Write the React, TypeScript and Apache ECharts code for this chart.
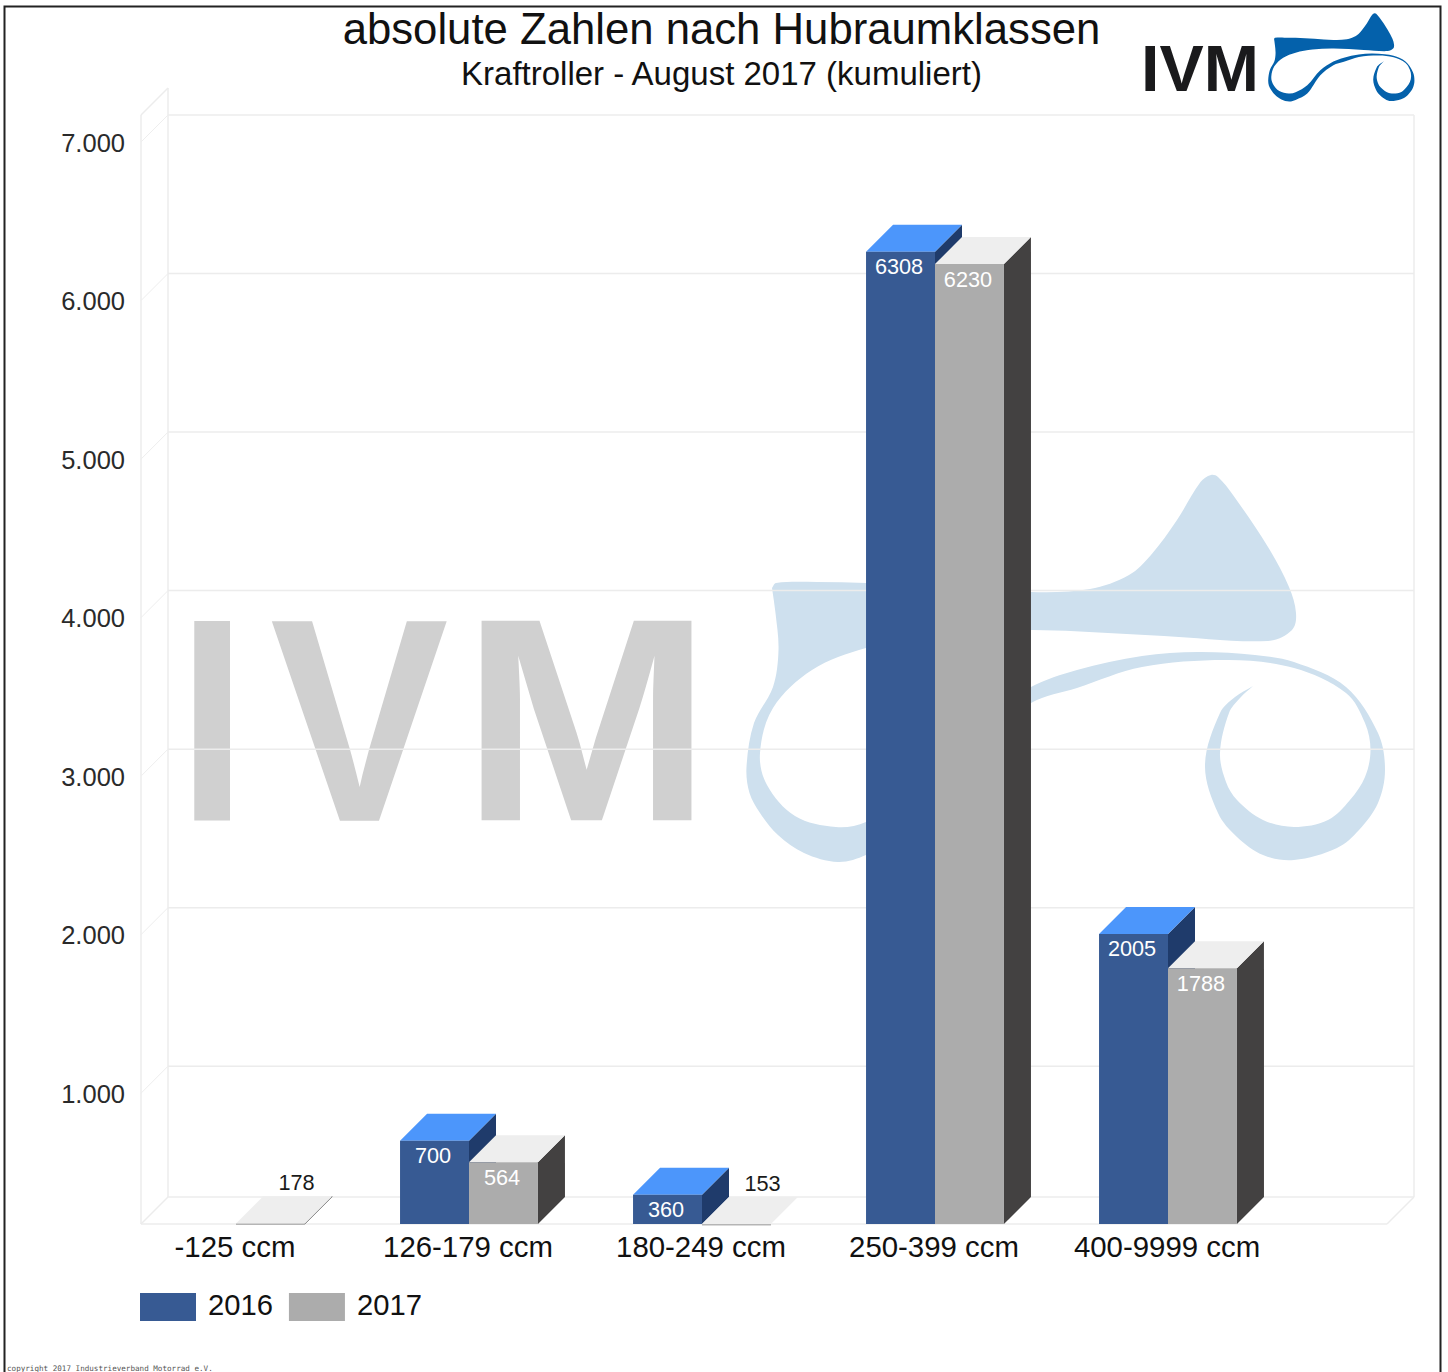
import React, { useEffect, useRef } from "react";
import * as echarts from "echarts";

const categories = ["-125 ccm", "126-179 ccm", "180-249 ccm", "250-399 ccm", "400-9999 ccm"];
const values2016: (number | null)[] = [null, 700, 360, 6308, 2005];
const values2017: number[] = [178, 564, 153, 6230, 1788];
const yTicks = [1000, 2000, 3000, 4000, 5000, 6000, 7000];
const Y_MIN = 175;
const Y_MAX = 7000;

const FONT = '"Liberation Sans", Arial, sans-serif';
const DEPTH = 27;
const GRID = { left: 119.5, width: 1165, top: 142, height: 1082 };
const WALL = { frontLeft: 141, frontRight: 1387, frontFloor: 1224 };
const WALL_COLOR = "#ececec";

// Outline of the IVM scooter logo (traced); doubled points make sharp corners.
const logoOutline: number[][] = [
  [1211, 475], [1218, 477], [1233, 495], [1268, 547], [1289, 587], [1296, 613], [1292, 630], [1268, 641],
  [1164, 636], [1033, 630], [940, 634], [866, 648], [812, 670], [773, 708],
  [760, 753], [767, 785], [795, 816], [836, 827], [866, 822], [917, 791], [974, 725], [1031, 687],
  [1077, 670], [1142, 656], [1198, 652], [1255, 655], [1294, 662], [1346, 687],
  [1378, 733], [1385, 770], [1378, 803], [1359, 830], [1337, 848], [1294, 860], [1263, 855],
  [1237, 837], [1218, 813], [1205, 765], [1220, 713], [1235, 697], [1253, 686],
  [1253, 686], [1240, 698], [1229, 713], [1220, 753], [1226, 782], [1237, 800], [1263, 820], [1294, 827], [1328, 820],
  [1350, 800], [1365, 777], [1370.5, 750], [1365, 723], [1346, 693], [1294, 668],
  [1229, 660], [1142, 667], [1077, 688], [1031, 703], [974, 747], [917, 827], [866, 855], [838, 862], [804, 853],
  [778, 835], [760, 813], [749.5, 793], [746.5, 767], [754, 723], [773, 687], [778.5, 650],
  [775.5, 613], [772, 588], [772, 588], [776, 583], [817, 582], [866, 583], [1031, 592], [1090, 589], [1129, 575],
  [1151, 555], [1177, 520], [1200.5, 482],
];

function smoothPath(p: number[][]): string {
  const n = p.length;
  const at = (i: number) => p[(i + n) % n];
  const unit = (a: number[], b: number[]) => {
    const dx = b[0] - a[0], dy = b[1] - a[1];
    const l = Math.hypot(dx, dy) || 1;
    return [dx / l, dy / l];
  };
  let d = `M${p[0][0]} ${p[0][1]}`;
  for (let i = 0; i < n; i++) {
    const p0 = at(i - 1), p1 = at(i), p2 = at(i + 1), p3 = at(i + 2);
    const len = Math.hypot(p2[0] - p1[0], p2[1] - p1[1]) / 3;
    const t1 = unit(p0, p2), t2 = unit(p1, p3);
    const c1 = [p1[0] + t1[0] * len, p1[1] + t1[1] * len];
    const c2 = [p2[0] - t2[0] * len, p2[1] - t2[1] * len];
    d += `C${c1[0]} ${c1[1]} ${c2[0]} ${c2[1]} ${p2[0]} ${p2[1]}`;
  }
  return d + "Z";
}

echarts.graphic.registerShape("ivmLogo", echarts.graphic.extendPath(smoothPath(logoOutline), {}) as any);

function barsRenderer(side: "left" | "right", front: string, top: string, dark: string) {
  return (params: any, api: any) => {
    const v = api.value(1);
    if (v === null || v === undefined || isNaN(v)) return { type: "group", children: [] };
    const cat = api.value(0);
    const w = api.size([1, 0])[0] * 0.296;
    const c = api.coord([cat, v]);
    const floor = api.coord([cat, Y_MIN])[1];
    const y = Math.min(c[1], floor);
    const x = side === "left" ? c[0] - w : c[0];
    const h = floor - y;
    const children: any[] = [
      { type: "polygon", shape: { points: [[x + w, y], [x + w + DEPTH, y - DEPTH], [x + w + DEPTH, floor - DEPTH], [x + w, floor]] }, style: { fill: dark, stroke: h > 0 ? "#888" : "none", lineWidth: h > 0 && h < 3 ? 1 : 0 } },
      { type: "polygon", shape: { points: [[x, y], [x + DEPTH, y - DEPTH], [x + w + DEPTH, y - DEPTH], [x + w, y]] }, style: { fill: top } },
      { type: "rect", shape: { x, y, width: w, height: Math.max(h, 1.5) }, style: { fill: h > 2 ? front : "#b5b5b5" } },
    ];
    const inside = h >= 25;
    children.push({
      type: "text",
      style: {
        text: String(v),
        x: inside ? x + w / 2 - 1.5 : x + w / 2 + DEPTH - 1,
        y: inside ? y + 15 : y - DEPTH - 14,
        align: "center",
        verticalAlign: "middle",
        fill: inside ? "#ffffff" : "#1a1a1a",
        fontSize: 21.7,
        fontFamily: FONT,
      },
    });
    return { type: "group", children };
  };
}

function gridRenderer(params: any, api: any) {
  const y = api.coord([0, api.value(1)])[1];
  return {
    type: "group",
    children: [
      { type: "line", shape: { x1: WALL.frontLeft + DEPTH, y1: y - DEPTH, x2: WALL.frontRight + DEPTH, y2: y - DEPTH }, style: { stroke: WALL_COLOR, lineWidth: 1.5 } },
      { type: "line", shape: { x1: WALL.frontLeft, y1: y, x2: WALL.frontLeft + DEPTH, y2: y - DEPTH }, style: { stroke: "#eeeeee", lineWidth: 1 } },
    ],
  };
}

export default function App() {
  const ref = useRef<HTMLDivElement>(null);
  useEffect(() => {
    document.body.style.margin = "0";
    const chart = echarts.init(ref.current!, null, { renderer: "svg" });
    const { frontLeft: fl, frontRight: fr, frontFloor: ff } = WALL;
    const wallLine = (x1: number, y1: number, x2: number, y2: number) => ({
      type: "line", z: 1, silent: true, shape: { x1, y1, x2, y2 }, style: { stroke: WALL_COLOR, lineWidth: 1.5 },
    });
    const bigLetter = (text: string, x: number, scaleX: number) => ({
      type: "text", z: -1, silent: true, x, y: 575, scaleX,
      style: { text, fontFamily: FONT, fontWeight: "bold", fontSize: 290, fill: "#d0d0d0", verticalAlign: "top" },
    });
    const logoSx = 0.2287;
    const logoSy = 0.2275;
    chart.setOption({
      animation: false,
      backgroundColor: "#ffffff",
      title: [
        { text: "absolute Zahlen nach Hubraumklassen", left: 721.5, top: 6, textAlign: "center", padding: 0, textStyle: { fontFamily: FONT, fontSize: 43.7, fontWeight: "normal", color: "#111111" } },
        { text: "Kraftroller - August 2017 (kumuliert)", left: 721.5, top: 57, textAlign: "center", padding: 0, textStyle: { fontFamily: FONT, fontSize: 33, fontWeight: "normal", color: "#111111" } },
      ],
      grid: { left: GRID.left, width: GRID.width, top: GRID.top, height: GRID.height, containLabel: false },
      legend: {
        left: 140, top: 1290, padding: 0, icon: "rect", itemWidth: 56, itemHeight: 28, itemGap: 16,
        data: ["2016", "2017"],
        formatter: "{t|{name}}",
        textStyle: {
          fontFamily: FONT, fontSize: 29.2, color: "#111111",
          rich: { t: { fontFamily: FONT, fontSize: 29.2, color: "#111111", padding: [0, 0, 5, 7] } },
        },
      },
      xAxis: {
        type: "category", data: categories,
        axisLine: { show: false }, axisTick: { show: false }, splitLine: { show: false },
        axisLabel: { fontFamily: FONT, fontSize: 29.4, color: "#111111", margin: 8, interval: 0, padding: [0, 2, 0, 0] },
      },
      yAxis: {
        type: "value", min: Y_MIN, max: Y_MAX, offset: -5.5,
        axisLine: { show: false }, axisTick: { show: false }, splitLine: { show: false },
        axisLabel: {
          customValues: yTicks, fontFamily: FONT, fontSize: 25.5, color: "#2a2a2a", margin: 0,
          formatter: (v: number) => `{t|${v / 1000}.000}`,
          rich: { t: { fontFamily: FONT, fontSize: 25.5, color: "#2a2a2a", padding: [1, 0, 0, 0] } },
        },
      },
      graphic: [
        { type: "rect", z: -2, silent: true, shape: { x: 4.5, y: 6.5, width: 1436, height: 1380 }, style: { fill: "none", stroke: "#222222", lineWidth: 2 } },
        bigLetter("I", 177.7, 0.855),
        bigLetter("V", 270, 0.923),
        bigLetter("M", 461.5, 1.035),
        { type: "ivmLogo", z: -1, silent: true, x: 0, y: 0, style: { fill: "#cee0ee" } },
        { type: "text", z: 5, silent: true, x: 1141, y: 36.7, scaleX: 1.02, style: { text: "IVM", fontFamily: FONT, fontWeight: "bold", fontSize: 65, fill: "#1a1a1c", verticalAlign: "top" } },
        { type: "ivmLogo", z: 5, silent: true, x: 1268 - 746.5 * logoSx, y: 13 - 475 * logoSy, scaleX: logoSx, scaleY: logoSy, style: { fill: "#0461ab" } },
        { type: "text", z: 5, silent: true, x: 7, y: 1364, style: { text: "copyright 2017 Industrieverband Motorrad e.V.", fontFamily: '"DejaVu Sans Mono", monospace', fontSize: 7.6, fill: "#555555", verticalAlign: "top" } },
        wallLine(fl, 115, fl, ff),
        wallLine(fl + DEPTH, 88, fl + DEPTH, ff - DEPTH),
        wallLine(fl, 115, fl + DEPTH, 88),
        wallLine(fl, ff, fl + DEPTH, ff - DEPTH),
        wallLine(fr, ff, fr + DEPTH, ff - DEPTH),
        wallLine(fl, ff, fr, ff),
        wallLine(fl + DEPTH, ff - DEPTH, fr + DEPTH, ff - DEPTH),
        wallLine(fr + DEPTH, 115, fr + DEPTH, ff - DEPTH),
      ],
      series: [
        { type: "custom", name: "grid", silent: true, z: 1, renderItem: gridRenderer, encode: { x: 0, y: 1 }, data: yTicks.map((t) => [0, t]) },
        { type: "custom", name: "2016", silent: true, z: 3, itemStyle: { color: "#375a93" }, renderItem: barsRenderer("left", "#375a93", "#4c96fb", "#1f3b6b"), encode: { x: 0, y: 1 }, data: values2016.map((v, i) => [i, v]) },
        { type: "custom", name: "2017", silent: true, z: 4, itemStyle: { color: "#acacac" }, renderItem: barsRenderer("right", "#acacac", "#eeeeee", "#434141"), encode: { x: 0, y: 1 }, data: values2017.map((v, i) => [i, v]) },
      ],
    });
    return () => chart.dispose();
  }, []);
  return <div ref={ref} style={{ width: 1448, height: 1372 }} />;
}
